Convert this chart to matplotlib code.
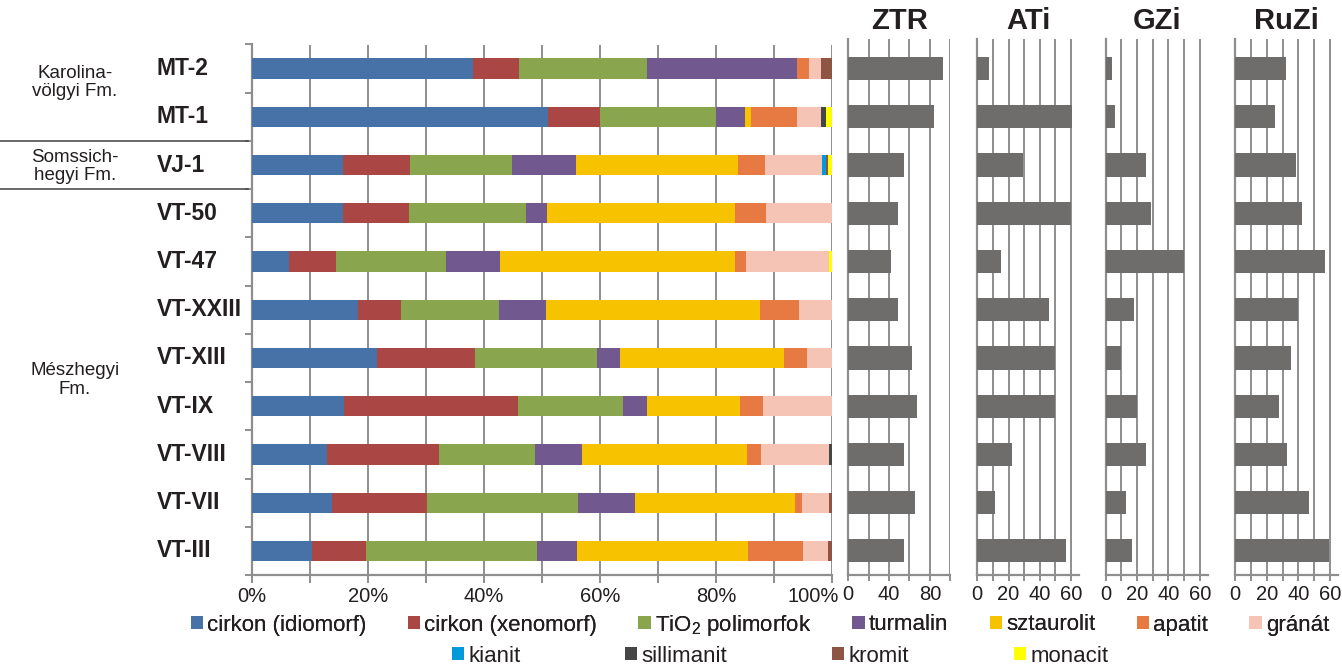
"""
Nehézásvány-összetétel (100%-os halmozott sávok) és ZTR / ATi / GZi / RuZi indexek
"""

import numpy as np
import matplotlib
matplotlib.use("Agg")
import matplotlib.pyplot as plt
from matplotlib.lines import Line2D
from matplotlib import transforms

plt.rcParams["font.family"] = ["Liberation Sans", "DejaVu Sans"]
plt.rcParams["mathtext.fontset"] = "custom"
plt.rcParams["mathtext.rm"] = "Liberation Sans"
plt.rcParams["mathtext.it"] = "Liberation Sans:italic"
plt.rcParams["mathtext.bf"] = "Liberation Sans:bold"

samples = ["MT-2", "MT-1", "VJ-1", "VT-50", "VT-47", "VT-XXIII",
           "VT-XIII", "VT-IX", "VT-VIII", "VT-VII", "VT-III"]

mineral_names = ["cirkon (idiomorf)", "cirkon (xenomorf)", "TiO$_2$ polimorfok",
                 "turmalin", "sztaurolit", "apatit", "gránát",
                 "kianit", "sillimanit", "kromit", "monacit"]

# részarányok, %
cirkon_idio = [38, 51, 15.6, 15.6, 6.3, 18.3, 21.5, 15.8, 13.0, 13.7, 10.3]
cirkon_xeno = [8, 9, 11.6, 11.5, 8.1, 7.4, 16.9, 30.1, 19.3, 16.4, 9.4]
tio2 = [22, 20, 17.6, 20.2, 19.1, 16.9, 21.1, 18.1, 16.5, 26.1, 29.4]
turmalin = [26, 5, 11.0, 3.5, 9.2, 8.0, 4.0, 4.0, 8.0, 9.8, 6.9]
sztaurolit = [0, 1, 28.0, 32.5, 40.6, 36.9, 28.1, 16.1, 28.5, 27.5, 29.4]
apatit = [2, 8, 4.6, 5.3, 1.8, 6.8, 4.0, 4.0, 2.4, 1.3, 9.5]
granat = [2, 4, 9.9, 11.4, 14.4, 5.7, 4.4, 11.9, 11.8, 4.6, 4.4]
kianit = [0, 0, 0.7, 0, 0, 0, 0, 0, 0, 0, 0]
sillimanit = [0, 1, 0, 0, 0, 0, 0, 0, 0.5, 0, 0]
kromit = [2, 0, 0.3, 0, 0, 0, 0, 0, 0, 0.6, 0.7]
monacit = [0, 1, 0.7, 0, 0.5, 0, 0, 0, 0, 0, 0]

# indexek
ztr = [93, 84, 55, 49, 42, 49, 62, 67, 55, 65, 55]
ati = [7.4, 60.6, 29, 60, 15, 46, 50, 50, 22.3, 11.3, 56.8]
gzi = [4, 6, 25.6, 28.8, 50, 18, 10, 20, 25.6, 13, 17]
ruzi = [32, 25, 38.3, 42.5, 56.5, 39.5, 35.6, 28, 33.1, 46.4, 59.2]

formations = ["Karolina-\nvölgyi Fm.", "Somssich-\nhegyi Fm.", "Mészhegyi\nFm."]

colors = ["#4672A8", "#AA4643", "#89A54E", "#71588F", "#F7C300", "#E77A43",
          "#F6C4B4", "#0099DA", "#464646", "#8E5444", "#FFFF00"]
GRID = "#8E8E8E"
TXT = "#231F20"
W, H = 1342, 672


def fig_box(x0, x1, top, bottom):
    return [x0 / W, 1 - bottom / H, (x1 - x0) / W, (bottom - top) / H]


def plot_main(fig):
    ax = fig.add_axes(fig_box(252, 832.3, 44.5, 575))
    series = [cirkon_idio, cirkon_xeno, tio2, turmalin, sztaurolit, apatit,
              granat, kianit, sillimanit, kromit, monacit]
    y = np.arange(len(samples))
    left = np.zeros(len(samples))
    for vals, name, c in zip(series, mineral_names, colors):
        ax.barh(y, vals, left=left, height=0.42, color=c, label=name, linewidth=0, zorder=3)
        left += np.array(vals)

    ax.set_xlim(0, 100)
    ax.set_ylim(len(samples) - 0.5, -0.5)
    ax.set_xticks(np.arange(0, 101, 20))
    ax.set_xticks(np.arange(0, 101, 10), minor=True)
    ax.set_xticklabels([f"{v}%" for v in range(0, 101, 20)])
    ax.set_yticks(np.arange(-0.5, len(samples), 1))
    ax.set_yticklabels([])
    ax.grid(axis="x", which="both", color=GRID, linewidth=1.4, zorder=0)
    for s in ["top", "right"]:
        ax.spines[s].set_visible(False)
    for s in ["left", "bottom"]:
        ax.spines[s].set_color(GRID)
        ax.spines[s].set_linewidth(1.6)
    ax.tick_params(axis="x", which="both", length=6, width=1.4, color=GRID,
                   labelsize=14.5, labelcolor=TXT, pad=3)
    ax.tick_params(axis="y", length=5, width=1.4, color=GRID)
    # a 100% felirat balra tolva, hogy ne érjen a ZTR 0-hoz
    last = ax.get_xticklabels()[-1]
    last.set_transform(last.get_transform()
                       + transforms.ScaledTranslation(-0.19, 0, fig.dpi_scale_trans))

    # mintanevek
    tr = transforms.blended_transform_factory(fig.transFigure, ax.transData)
    for i, s in enumerate(samples):
        ax.text(157 / W, i, s, transform=tr, ha="left", va="center",
                fontsize=16.5, fontweight="bold", color=TXT)

    # formációk elválasztása
    for yb in [1.5, 2.5]:
        fig.add_artist(Line2D([0, 248 / W], [yb, yb], transform=tr,
                              color="#404040", linewidth=1.1))
    for txt, yp in zip(formations, [82.5, 166.5, 380]):
        fig.text(75 / W, 1 - yp / H, txt, ha="center", va="center",
                 fontsize=13.5, color=TXT, linespacing=1.1)
    return ax


def plot_index(fig, vals, title, x0, x1, xmax, step, labelled):
    ax = fig.add_axes(fig_box(x0, x1, 39, 575))
    y = np.arange(len(samples))
    ax.barh(y, vals, height=0.48, color="#6E6D6B", linewidth=0, zorder=3)
    ax.set_xlim(0, xmax)
    ax.set_ylim(len(samples) - 0.5, -0.5 - 5.5 / 48.2)
    ticks = np.arange(0, xmax + 0.1, step)
    ax.set_xticks(ticks)
    ax.set_xticklabels([f"{t:g}" if t in labelled else "" for t in ticks])
    ax.set_yticks([])
    ax.grid(axis="x", color=GRID, linewidth=1.4, zorder=0)
    for s in ["top", "right"]:
        ax.spines[s].set_visible(False)
    for s in ["left", "bottom"]:
        ax.spines[s].set_color(GRID)
        ax.spines[s].set_linewidth(1.6)
    ax.tick_params(axis="x", length=4, width=1.4, color=GRID,
                   labelsize=14.5, labelcolor=TXT, pad=3)
    fig.text((x0 + x1) / 2 / W, 1 - 21 / H, title, ha="center", va="center",
             fontsize=21, fontweight="bold", color=TXT)
    return ax


def plot_legend(fig, ax):
    handles, labels = ax.get_legend_handles_labels()
    kw = dict(frameon=False, fontsize=16, handlelength=0.55, handleheight=0.55,
              handletextpad=0.2, borderpad=0, borderaxespad=0, labelcolor=TXT)
    leg1 = fig.legend(handles[:7], labels[:7], loc="center", ncol=7,
                      bbox_to_anchor=(760 / W, 1 - 625 / H), columnspacing=1.85, **kw)
    fig.add_artist(leg1)
    fig.legend(handles[7:], labels[7:], loc="center", ncol=4,
               bbox_to_anchor=(780 / W, 1 - 656 / H), columnspacing=4.7, **kw)


if __name__ == "__main__":
    fig = plt.figure(figsize=(W / 100, H / 100), dpi=100)
    ax = plot_main(fig)
    plot_index(fig, ztr, "ZTR", 848.3, 950.3, 100, 20, [0, 40, 80])
    plot_index(fig, ati, "ATi", 977.3, 1078.7, 65, 10, [0, 20, 40, 60])
    plot_index(fig, gzi, "GZi", 1105.7, 1207.7, 65, 10, [0, 20, 40, 60])
    plot_index(fig, ruzi, "RuZi", 1235, 1338, 65, 10, [0, 20, 40, 60])
    plot_legend(fig, ax)
    fig.savefig("out.png", dpi=100)
